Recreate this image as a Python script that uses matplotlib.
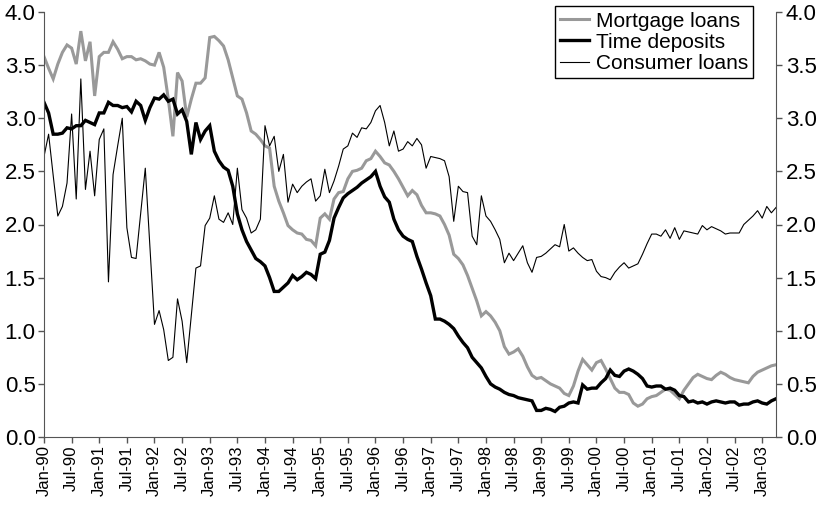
import matplotlib
matplotlib.use("Agg")
import matplotlib.pyplot as plt
import numpy as np

# monthly values, Jan-90 .. Apr-03
mortgage = [
    3.58, 3.47, 3.37, 3.51, 3.62, 3.69, 3.66, 3.51, 3.82, 3.54, 3.72, 3.21,
    3.58, 3.62, 3.62, 3.72, 3.65, 3.56, 3.58, 3.58, 3.55, 3.56, 3.54, 3.51,
    3.50, 3.62, 3.48, 3.18, 2.83, 3.43, 3.35, 3.01, 3.18, 3.33, 3.33, 3.38,
    3.76, 3.77, 3.73, 3.68, 3.55, 3.38, 3.21, 3.18, 3.05, 2.88,
    2.85, 2.80, 2.74, 2.72, 2.36, 2.22, 2.11, 1.99, 1.95, 1.92, 1.91, 1.86,
    1.85, 1.80, 2.06, 2.10, 2.05, 2.24, 2.30, 2.31, 2.43, 2.50,
    2.51, 2.53, 2.60, 2.62, 2.69, 2.64, 2.58, 2.56, 2.50,
    2.43, 2.35, 2.27, 2.32, 2.28, 2.18, 2.11, 2.11, 2.10, 2.08, 2.00, 1.90,
    1.72, 1.68, 1.62, 1.52, 1.40, 1.28, 1.14, 1.18, 1.14, 1.08, 1.00, 0.85,
    0.78, 0.80, 0.83, 0.76, 0.66, 0.58, 0.55, 0.56, 0.53, 0.50, 0.48, 0.46,
    0.41, 0.39, 0.48, 0.62, 0.73, 0.68, 0.63, 0.70,
    0.72, 0.64, 0.55, 0.46, 0.42, 0.42, 0.40, 0.32, 0.29, 0.31, 0.36, 0.38,
    0.39, 0.42, 0.45, 0.44, 0.40, 0.36, 0.44, 0.50, 0.56, 0.59, 0.57, 0.55,
    0.54, 0.58, 0.61, 0.59, 0.56, 0.54, 0.53, 0.52, 0.51, 0.57, 0.61, 0.63,
    0.65, 0.67, 0.68,
]

time_deposits = [
    3.15, 3.05, 2.85, 2.85, 2.86, 2.91, 2.90, 2.93, 2.93, 2.98, 2.96, 2.94,
    3.05, 3.05, 3.15, 3.12, 3.12, 3.10, 3.11, 3.06, 3.16, 3.12, 2.98, 3.10,
    3.19, 3.18, 3.22, 3.16, 3.18, 3.04, 3.08, 2.97, 2.66, 2.96, 2.80, 2.88,
    2.93, 2.69,
    2.60, 2.54, 2.51, 2.36, 2.10, 1.95, 1.84, 1.76, 1.68, 1.65, 1.61, 1.50,
    1.37, 1.37, 1.41, 1.45, 1.52, 1.48, 1.51, 1.55, 1.53, 1.49, 1.72, 1.74,
    1.85, 2.06, 2.16, 2.25, 2.29, 2.32, 2.35, 2.39, 2.42, 2.45, 2.50, 2.36,
    2.26, 2.21,
    2.05, 1.95, 1.89, 1.86, 1.84, 1.70, 1.58, 1.45, 1.33, 1.11, 1.11, 1.09,
    1.06, 1.02, 0.95, 0.89, 0.84, 0.75, 0.70, 0.65, 0.57, 0.50, 0.47, 0.45,
    0.42, 0.40, 0.39, 0.37, 0.36, 0.35, 0.34, 0.25, 0.25, 0.27, 0.26, 0.24,
    0.28, 0.29, 0.32, 0.33, 0.32,
    0.49, 0.45, 0.46, 0.46, 0.51, 0.55, 0.63, 0.58, 0.57, 0.62, 0.64, 0.62,
    0.59, 0.55, 0.48, 0.47, 0.48, 0.48, 0.45, 0.46, 0.44, 0.39, 0.38, 0.33,
    0.34, 0.32, 0.33, 0.31, 0.33, 0.34, 0.33, 0.32, 0.33, 0.33, 0.30, 0.31,
    0.31, 0.33, 0.34, 0.32, 0.31, 0.34, 0.36,
]

consumer = [
    2.64, 2.85, 2.46, 2.08, 2.17, 2.39, 3.04, 2.24, 3.37, 2.33, 2.69, 2.27,
    2.80, 2.90, 1.46, 2.47, 2.74, 3.00, 1.97, 1.69, 1.68, 2.11, 2.53,
    1.80, 1.06, 1.19, 1.01, 0.72, 0.75, 1.30, 1.09, 0.70, 1.15, 1.59, 1.61,
    1.99, 2.06, 2.27, 2.05, 2.02, 2.11, 2.00, 2.53, 2.14, 2.06, 1.92,
    1.95, 2.05, 2.93, 2.74, 2.83, 2.50, 2.66, 2.21, 2.38, 2.30, 2.36, 2.40,
    2.43, 2.22, 2.27, 2.52, 2.30, 2.41, 2.55, 2.71, 2.74, 2.86, 2.82, 2.91,
    2.90, 2.96, 3.07, 3.12, 2.96, 2.74,
    2.88, 2.69, 2.71, 2.78, 2.74, 2.81, 2.75, 2.53, 2.64, 2.63, 2.62, 2.60,
    2.45, 2.03, 2.36, 2.31, 2.30, 1.89, 1.81, 2.27, 2.08, 2.03, 1.95, 1.86,
    1.64, 1.73, 1.66, 1.73, 1.80, 1.64, 1.55, 1.69, 1.70, 1.73, 1.77, 1.81,
    1.79, 2.00, 1.75, 1.78, 1.73, 1.69, 1.66, 1.67, 1.56,
    1.51, 1.50, 1.48, 1.55, 1.60, 1.64, 1.59, 1.61, 1.63, 1.72, 1.82, 1.91,
    1.91, 1.89, 1.95, 1.87, 1.97, 1.86, 1.94, 1.93, 1.92, 1.91, 1.99, 1.95,
    1.98, 1.96, 1.94, 1.91, 1.92, 1.92, 1.92, 2.00, 2.04, 2.08, 2.13, 2.06,
    2.17, 2.11, 2.16,
]

tick_labels = [
    "Jan-90", "Jul-90", "Jan-91", "Jul-91", "Jan-92", "Jul-92", "Jan-93",
    "Jul-93", "Jan-94", "Jul-94", "Jan-95", "Jul-95", "Jan-96", "Jul-96",
    "Jan-97", "Jul-97", "Jan-98", "Jul-98", "Jan-99", "Jul-99", "Jan-00",
    "Jul-00", "Jan-01", "Jul-01", "Jan-02", "Jul-02", "Jan-03",
]
y_ticks = [0.0, 0.5, 1.0, 1.5, 2.0, 2.5, 3.0, 3.5, 4.0]

plt.rcParams["font.family"] = ["Liberation Sans", "DejaVu Sans"]
narrow = ["Liberation Sans Narrow", "Liberation Sans", "DejaVu Sans"]

fig = plt.figure(figsize=(8.19, 5.17), dpi=100)
ax = fig.add_axes([44 / 819, 1 - 437 / 517, 732 / 819, 425 / 517])

ax.plot(np.arange(len(mortgage)), mortgage, color="#999999", lw=2.2,
        label="Mortgage loans", solid_joinstyle="miter")
ax.plot(np.arange(len(time_deposits)), time_deposits, color="black", lw=2.4,
        label="Time deposits", solid_joinstyle="miter")
ax.plot(np.arange(len(consumer)), consumer, color="black", lw=0.8,
        label="Consumer loans")

n = len(mortgage)
ax.set_xlim(0, n - 1)
ax.set_ylim(0, 4)
ax.set_xticks(np.arange(len(tick_labels)) * 6)
ax.set_xticklabels(tick_labels, rotation=90, fontsize=12, family=narrow)
ax.set_yticks(y_ticks)
ax.set_yticklabels([f"{v:.1f}" for v in y_ticks], fontsize=16, family=narrow)

for s in ["top", "right"]:
    ax.spines[s].set_visible(False)
for s in ["left", "bottom"]:
    ax.spines[s].set_color("#555555")
ax.tick_params(colors="#555555", labelcolor="black", length=4, width=1,
               pad=2)

ax2 = ax.twinx()
ax2.set_ylim(0, 4)
ax2.set_yticks(y_ticks)
ax2.set_yticklabels([f"{v:.1f}" for v in y_ticks], fontsize=16, family=narrow)
for s in ["top", "left", "bottom"]:
    ax2.spines[s].set_visible(False)
ax2.spines["right"].set_color("#555555")
ax2.tick_params(colors="#555555", labelcolor="black", length=4, width=1,
                pad=3)

leg = ax.legend(loc="upper right", bbox_to_anchor=(0.969, 1.013),
                fontsize=15, fancybox=False, edgecolor="black", framealpha=1,
                borderaxespad=0, borderpad=0.25, handlelength=1.35,
                handletextpad=0.35, labelspacing=0.1)
leg.get_frame().set_linewidth(1.0)

fig.savefig("out.png", dpi=100)
